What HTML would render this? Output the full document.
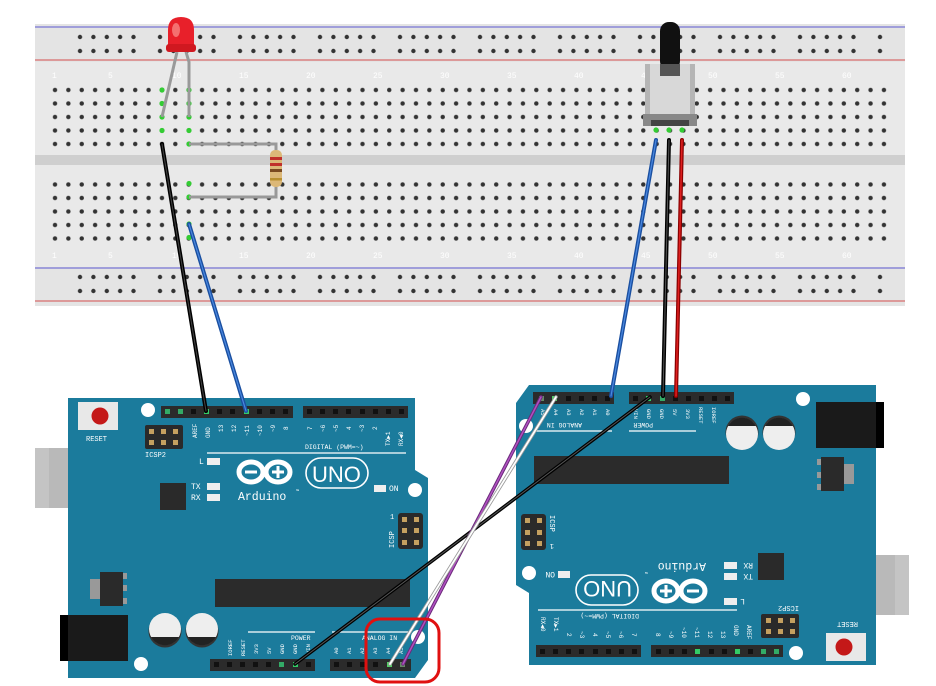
<!DOCTYPE html>
<html><head><meta charset="utf-8"><style>
html,body{margin:0;padding:0;background:#fff;width:936px;height:686px;overflow:hidden}
svg{display:block}
text{font-family:"Liberation Mono",monospace;fill:#fff}
</style></head><body>
<svg width="936" height="686" viewBox="0 0 936 686" xmlns="http://www.w3.org/2000/svg">
<defs>
<pattern id="grid" x="48.3" y="83.3" width="13.37" height="13.5" patternUnits="userSpaceOnUse">
<circle cx="6.7" cy="6.7" r="2.2" fill="#333"/></pattern>
<pattern id="rail" x="73.3" y="30" width="80" height="14" patternUnits="userSpaceOnUse">
<circle cx="6.7" cy="7" r="2.2" fill="#333"/><circle cx="20.1" cy="7" r="2.2" fill="#333"/><circle cx="33.5" cy="7" r="2.2" fill="#333"/><circle cx="46.8" cy="7" r="2.2" fill="#333"/><circle cx="60.2" cy="7" r="2.2" fill="#333"/></pattern>
<pattern id="rail2" x="73.3" y="270" width="80" height="14" patternUnits="userSpaceOnUse">
<circle cx="6.7" cy="7" r="2.2" fill="#333"/><circle cx="20.1" cy="7" r="2.2" fill="#333"/><circle cx="33.5" cy="7" r="2.2" fill="#333"/><circle cx="46.8" cy="7" r="2.2" fill="#333"/><circle cx="60.2" cy="7" r="2.2" fill="#333"/></pattern>
</defs>
<!-- breadboard -->
<rect x="35" y="24" width="870" height="282" fill="#e4e4e4"/>
<rect x="35" y="62" width="870" height="205" fill="#e9e9e9"/>
<rect x="35" y="155" width="870" height="10" fill="#cfcfcf"/>
<line x1="35" y1="27" x2="905" y2="27" stroke="#8a86d6" stroke-width="1.5"/>
<line x1="35" y1="60" x2="905" y2="60" stroke="#d98080" stroke-width="1.5"/>
<line x1="35" y1="268" x2="905" y2="268" stroke="#8a86d6" stroke-width="1.5"/>
<line x1="35" y1="301" x2="905" y2="301" stroke="#d98080" stroke-width="1.5"/>
<rect x="70" y="30" width="820" height="28" fill="url(#rail)"/>
<rect x="70" y="270" width="820" height="28" fill="url(#rail2)"/>
<rect x="48" y="83" width="843" height="68" fill="url(#grid)"/>
<rect x="48" y="176.5" width="843" height="68" fill="url(#grid)" transform="translate(0,0)"/>
<g fill="#bbb" font-size="8" style="font-family:'Liberation Sans',sans-serif">
<text x="52" y="78" fill="#bbb">1</text><text x="108" y="78" fill="#bbb">5</text><text x="172" y="78" fill="#bbb">10</text><text x="239" y="78" fill="#bbb">15</text><text x="306" y="78" fill="#bbb">20</text><text x="373" y="78" fill="#bbb">25</text><text x="440" y="78" fill="#bbb">30</text><text x="507" y="78" fill="#bbb">35</text><text x="574" y="78" fill="#bbb">40</text><text x="641" y="78" fill="#bbb">45</text><text x="708" y="78" fill="#bbb">50</text><text x="775" y="78" fill="#bbb">55</text><text x="842" y="78" fill="#bbb">60</text>
<text x="52" y="258" fill="#bbb">1</text><text x="108" y="258" fill="#bbb">5</text><text x="172" y="258" fill="#bbb">10</text><text x="239" y="258" fill="#bbb">15</text><text x="306" y="258" fill="#bbb">20</text><text x="373" y="258" fill="#bbb">25</text><text x="440" y="258" fill="#bbb">30</text><text x="507" y="258" fill="#bbb">35</text><text x="574" y="258" fill="#bbb">40</text><text x="641" y="258" fill="#bbb">45</text><text x="708" y="258" fill="#bbb">50</text><text x="775" y="258" fill="#bbb">55</text><text x="842" y="258" fill="#bbb">60</text>
</g>
<!-- green highlights -->
<g fill="#3c3">
<circle cx="162" cy="90" r="2.6"/><circle cx="162" cy="103.5" r="2.6"/><circle cx="162" cy="117" r="2.6"/><circle cx="162" cy="130.5" r="2.6"/>
<circle cx="189" cy="90" r="2.6"/><circle cx="189" cy="103.5" r="2.6"/><circle cx="189" cy="117" r="2.6"/><circle cx="189" cy="130.5" r="2.6"/><circle cx="189" cy="144" r="2.6"/>
<circle cx="189" cy="183.5" r="2.6"/><circle cx="189" cy="197" r="2.6"/><circle cx="189" cy="224" r="2.6"/><circle cx="189" cy="237.5" r="2.6"/>
<circle cx="656" cy="130" r="2.6"/><circle cx="669" cy="130" r="2.6"/><circle cx="682" cy="130" r="2.6"/>
</g>
<!-- LED -->
<line x1="177" y1="52" x2="162" y2="117" stroke="#999" stroke-width="3"/>
<polyline points="186,52 189,62 189,117" fill="none" stroke="#999" stroke-width="3"/>
<path d="M168,50 L168,30 Q168,17 181,17 Q194,17 194,30 L194,50 Z" fill="#e8202a"/>
<rect x="166" y="44" width="30" height="8" rx="3" fill="#d01820"/>
<ellipse cx="176" cy="30" rx="4" ry="7" fill="#f47070"/>
<!-- resistor -->
<polyline points="189,144 276,144 276,150" fill="none" stroke="#999" stroke-width="3"/>
<polyline points="276,186 276,197 189,197" fill="none" stroke="#999" stroke-width="3"/>
<rect x="270" y="150" width="12" height="37" rx="5" fill="#dcb878"/>
<rect x="270" y="157" width="12" height="3" fill="#c0302a"/><rect x="270" y="163" width="12" height="3" fill="#c0302a"/><rect x="270" y="169" width="12" height="3" fill="#7a4a20"/><rect x="270" y="178" width="12" height="2.5" fill="#b89030"/>
<!-- potentiometer -->
<rect x="660" y="22" width="20" height="48" rx="9" fill="#111"/>
<rect x="645" y="64" width="50" height="58" fill="#b5b5b5"/>
<rect x="650" y="64" width="40" height="58" fill="#d8d8d8"/>
<rect x="660" y="64" width="20" height="12" fill="#555"/>
<rect x="643" y="114" width="54" height="12" fill="#888"/>
<rect x="651" y="120" width="38" height="6" fill="#444"/>
<!-- Arduino left -->
<g id="ard">
<rect x="35" y="448" width="82" height="60" fill="#aaa"/><rect x="35" y="448" width="14" height="60" fill="#c4c4c4"/><rect x="49" y="448" width="68" height="60" fill="#b9b9b9"/>
<path d="M68,398 L415,398 L415,470 L428,478 L428,660 L415,678 L68,678 Z" fill="#1b7b9c"/>
<rect x="60" y="615" width="68" height="46" fill="#1a1a1a"/><rect x="60" y="615" width="8" height="46" fill="#000"/>
<rect x="78" y="402" width="40" height="28" fill="#e8e8e8"/><circle cx="100" cy="416" r="8.5" fill="#c41818"/>
<text x="86" y="441" font-size="7">RESET</text>
<g fill="#c4a060"><rect x="145" y="425" width="38" height="24" rx="2" fill="#2a2a2a"/>
<rect x="149" y="429" width="5" height="5"/><rect x="161" y="429" width="5" height="5"/><rect x="173" y="429" width="5" height="5"/><rect x="149" y="440" width="5" height="5"/><rect x="161" y="440" width="5" height="5"/><rect x="173" y="440" width="5" height="5"/></g>
<text x="145" y="457" font-size="7">ICSP2</text>
<circle cx="148" cy="410" r="7" fill="#fff"/><circle cx="415" cy="490" r="7" fill="#fff"/><circle cx="141" cy="664" r="7" fill="#fff"/><circle cx="418" cy="637" r="7" fill="#fff"/>
<!-- top headers -->
<rect x="161" y="406" width="132" height="12" fill="#2b2b2b"/><rect x="303" y="406" width="105" height="12" fill="#2b2b2b"/>
<g fill="#111"><rect x="165" y="409" width="5" height="5" fill="#3a6"/><rect x="178" y="409" width="5" height="5" fill="#3a6"/><rect x="191" y="409" width="5" height="5"/><rect x="204" y="409" width="5" height="5" fill="#3c6"/><rect x="217" y="409" width="5" height="5"/><rect x="230" y="409" width="5" height="5"/><rect x="244" y="409" width="5" height="5" fill="#3c6"/><rect x="257" y="409" width="5" height="5"/><rect x="270" y="409" width="5" height="5"/><rect x="283" y="409" width="5" height="5"/>
<rect x="307" y="409" width="5" height="5"/><rect x="320" y="409" width="5" height="5"/><rect x="333" y="409" width="5" height="5"/><rect x="346" y="409" width="5" height="5"/><rect x="360" y="409" width="5" height="5"/><rect x="373" y="409" width="5" height="5"/><rect x="386" y="409" width="5" height="5"/><rect x="399" y="409" width="5" height="5"/></g>
<g font-size="6">
<text transform="translate(197,438) rotate(-90)">AREF</text><text transform="translate(210,438) rotate(-90)">GND</text><text transform="translate(223,432) rotate(-90)">13</text><text transform="translate(236,432) rotate(-90)">12</text><text transform="translate(249,436) rotate(-90)">~11</text><text transform="translate(262,436) rotate(-90)">~10</text><text transform="translate(275,432) rotate(-90)">~9</text><text transform="translate(288,430) rotate(-90)">8</text>
<text transform="translate(312,430) rotate(-90)">7</text><text transform="translate(325,432) rotate(-90)">~6</text><text transform="translate(338,432) rotate(-90)">~5</text><text transform="translate(351,430) rotate(-90)">4</text><text transform="translate(364,432) rotate(-90)">~3</text><text transform="translate(377,430) rotate(-90)">2</text><text transform="translate(390,446) rotate(-90)">TX▶1</text><text transform="translate(403,446) rotate(-90)">RX◀0</text>
</g>
<text x="305" y="449" font-size="6.5">DIGITAL (PWM=~)</text>
<line x1="207" y1="453" x2="406" y2="453" stroke="#fff" stroke-width="1.2"/>
<text x="199" y="464" font-size="8">L</text><rect x="207" y="458" width="13" height="7" fill="#eee"/>
<text x="191" y="489" font-size="8">TX</text><rect x="207" y="483" width="13" height="7" fill="#eee"/>
<text x="191" y="500" font-size="8">RX</text><rect x="207" y="494" width="13" height="7" fill="#eee"/>
<rect x="160" y="483" width="26" height="27" fill="#2a2a2a"/>
<!-- logo -->
<g fill="none" stroke="#fff" stroke-width="5"><ellipse cx="251" cy="472" rx="12" ry="10"/><ellipse cx="278" cy="472" rx="12" ry="10"/></g>
<rect x="245" y="470.5" width="12" height="3" fill="#fff"/><rect x="272" y="470.5" width="12" height="3" fill="#fff"/><rect x="276.5" y="466" width="3" height="12" fill="#fff"/>
<rect x="306" y="458" width="62" height="30" rx="15" fill="none" stroke="#fff" stroke-width="1.6"/>
<text x="312" y="482" font-size="22" style="font-family:'Liberation Sans',sans-serif">UNO</text>
<text x="238" y="500" font-size="11.5">Arduino</text><text x="296" y="493" font-size="5">™</text>
<rect x="374" y="485" width="12" height="7" fill="#eee"/><text x="389" y="491" font-size="8">ON</text>
<!-- ICSP right -->
<rect x="398" y="513" width="25" height="36" rx="3" fill="#2a2a2a"/>
<g fill="#c4a060"><rect x="402" y="517" width="5" height="5"/><rect x="414" y="517" width="5" height="5"/><rect x="402" y="528" width="5" height="5"/><rect x="414" y="528" width="5" height="5"/><rect x="402" y="540" width="5" height="5"/><rect x="414" y="540" width="5" height="5"/></g>
<text transform="translate(394,548) rotate(-90)" font-size="7">ICSP</text><text x="390" y="519" font-size="7">1</text>
<!-- regulator -->
<rect x="90" y="579" width="14" height="20" fill="#999"/><rect x="100" y="572" width="23" height="34" fill="#2a2a2a"/><g fill="#999"><rect x="123" y="573" width="4" height="6"/><rect x="123" y="585" width="4" height="6"/><rect x="123" y="598" width="4" height="6"/></g>
<!-- chip -->
<rect x="215" y="579" width="195" height="28" fill="#2b2b2b"/>
<!-- caps -->
<circle cx="165" cy="631" r="16.5" fill="#333"/><circle cx="165" cy="629" r="16" fill="#eee"/><path d="M151,637 A16,16 0 0 0 179,637 Z" fill="#222"/>
<circle cx="202" cy="631" r="16.5" fill="#333"/><circle cx="202" cy="629" r="16" fill="#eee"/><path d="M188,637 A16,16 0 0 0 216,637 Z" fill="#222"/>
<!-- bottom labels -->
<line x1="248" y1="632" x2="315" y2="632" stroke="#fff" stroke-width="1.2"/><text x="291" y="640" font-size="6.5">POWER</text>
<line x1="332" y1="632" x2="410" y2="632" stroke="#fff" stroke-width="1.2"/><text x="362" y="640" font-size="6.5">ANALOG IN</text>
<g font-size="5.5">
<text transform="translate(232,656) rotate(-90)">IOREF</text><text transform="translate(245,656) rotate(-90)">RESET</text><text transform="translate(258,654) rotate(-90)">3V3</text><text transform="translate(271,654) rotate(-90)">5V</text><text transform="translate(284,654) rotate(-90)">GND</text><text transform="translate(297,654) rotate(-90)">GND</text><text transform="translate(310,654) rotate(-90)">VIN</text>
<text transform="translate(338,654) rotate(-90)">A0</text><text transform="translate(351,654) rotate(-90)">A1</text><text transform="translate(364,654) rotate(-90)">A2</text><text transform="translate(377,654) rotate(-90)">A3</text><text transform="translate(390,654) rotate(-90)">A4</text><text transform="translate(403,654) rotate(-90)">A5</text>
</g>
<rect x="210" y="659" width="105" height="12" fill="#2b2b2b"/><rect x="330" y="659" width="81" height="12" fill="#2b2b2b"/>
<g fill="#111"><rect x="214" y="662" width="5" height="5"/><rect x="227" y="662" width="5" height="5"/><rect x="240" y="662" width="5" height="5"/><rect x="253" y="662" width="5" height="5"/><rect x="266" y="662" width="5" height="5"/><rect x="279" y="662" width="5" height="5" fill="#3a6"/><rect x="293" y="662" width="5" height="5" fill="#3c6"/><rect x="306" y="662" width="5" height="5"/>
<rect x="334" y="662" width="5" height="5"/><rect x="347" y="662" width="5" height="5"/><rect x="360" y="662" width="5" height="5"/><rect x="373" y="662" width="5" height="5"/><rect x="387" y="662" width="5" height="5" fill="#5c6"/><rect x="400" y="662" width="5" height="5" fill="#686"/></g>
</g>
<!-- Arduino right (rotated copy) -->
<use href="#ard" transform="translate(944,1063) rotate(180)"/>
<!-- wires -->
<g stroke-linecap="round" fill="none">
<line x1="162" y1="144" x2="206" y2="411" stroke="#000" stroke-width="4"/><line x1="162" y1="144" x2="206" y2="411" stroke="#444" stroke-width="1"/>
<line x1="189" y1="224" x2="246" y2="411" stroke="#1a4fa0" stroke-width="4"/><line x1="189" y1="224" x2="246" y2="411" stroke="#4a88e0" stroke-width="1.2"/>
<line x1="656" y1="140" x2="611" y2="396" stroke="#1a4fa0" stroke-width="4"/><line x1="656" y1="140" x2="611" y2="396" stroke="#4a88e0" stroke-width="1.2"/>
<line x1="669" y1="140" x2="663" y2="396" stroke="#000" stroke-width="4"/><line x1="669" y1="140" x2="663" y2="396" stroke="#555" stroke-width="1"/>
<line x1="682" y1="140" x2="676" y2="396" stroke="#8a0000" stroke-width="4"/><line x1="682" y1="140" x2="676" y2="396" stroke="#e02020" stroke-width="1.5"/>
<line x1="650" y1="397" x2="295" y2="664" stroke="#000" stroke-width="3.5"/><line x1="650" y1="397" x2="295" y2="664" stroke="#555" stroke-width="1"/>
<line x1="541" y1="397" x2="403" y2="664" stroke="#6a2a7a" stroke-width="3.5"/><line x1="541" y1="397" x2="403" y2="664" stroke="#b050c0" stroke-width="1.5"/>
<line x1="556" y1="397" x2="390" y2="664" stroke="#999" stroke-width="3.5"/><line x1="556" y1="397" x2="390" y2="664" stroke="#fff" stroke-width="1.8"/>
</g>
<rect x="366" y="619" width="73" height="63" rx="14" fill="none" stroke="#e01010" stroke-width="3"/>
</svg>
</body></html>
